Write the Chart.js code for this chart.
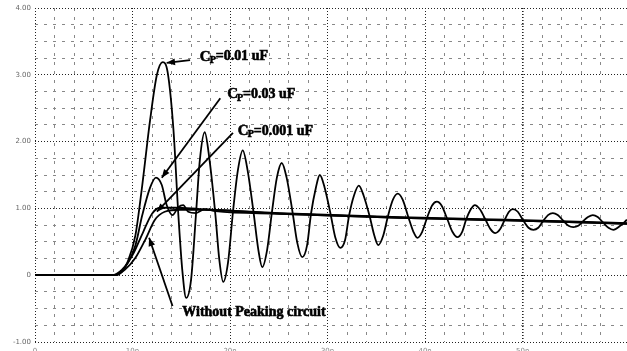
<!DOCTYPE html>
<html>
<head>
<meta charset="utf-8">
<script src="https://cdn.jsdelivr.net/npm/chart.js@4.4.1/dist/chart.umd.min.js"></script>
<style>
  html, body { margin: 0; padding: 0; background: #fff; }
  canvas { display: block; }
</style>
</head>
<body>
<canvas id="wave" width="627" height="351"></canvas>
<script>
// values: x in major divisions, y in volts
var yTicks = [-1, 0, 1, 2, 3, 4];
var yTickLabels = ["-1.00", "0", "1.00", "2.00", "3.00", "4.00"];
var xTicks = [0, 1, 2, 3, 4, 5, 6];
var xTickLabels = ["0", "10n", "20n", "30n", "40n", "50n", "60n"];

// Cp = 0.01 uF, the big ringing one
var timeA = [0, 0.46, 0.82, 0.89, 0.95, 1.03, 1.10, 1.18, 1.25, 1.31, 1.36, 1.42, 1.47, 1.51, 1.55, 1.60,
  1.65, 1.69, 1.74, 1.79, 1.85, 1.89, 1.93, 1.98, 2.03, 2.08, 2.13, 2.18, 2.24, 2.29, 2.33, 2.38,
  2.43, 2.48, 2.53, 2.58, 2.64, 2.69, 2.74, 2.79, 2.83, 2.88, 2.92, 2.97, 3.03, 3.08, 3.13, 3.18,
  3.22, 3.27, 3.32, 3.37, 3.43, 3.48, 3.52, 3.57, 3.62, 3.67, 3.72, 3.77, 3.83, 3.88, 3.92, 3.97,
  4.02, 4.07, 4.12, 4.17, 4.23, 4.28, 4.33, 4.38, 4.42, 4.47, 4.51, 4.56, 4.62, 4.67, 4.72, 4.77,
  4.81, 4.86, 4.90, 4.95, 5.01, 5.06, 5.11, 5.16, 5.21, 5.26, 5.31, 5.36, 5.42, 5.47, 5.52, 5.57,
  5.62, 5.67, 5.72, 5.77, 5.83, 5.88, 5.93, 6.00, 6.07];
var voltA = [0, 0, 0, 0.05, 0.20, 0.60, 1.35, 2.32, 3.00, 3.19, 3.04, 2.17, 0.90, 0.08, -0.34, -0.07,
  0.90, 1.72, 2.14, 1.72, 0.90, 0.23, -0.10, 0.20, 0.95, 1.57, 1.87, 1.57, 0.95, 0.38, 0.12, 0.38,
  0.95, 1.46, 1.68, 1.46, 0.95, 0.48, 0.27, 0.45, 0.92, 1.31, 1.50, 1.31, 0.92, 0.56, 0.41, 0.53,
  0.89, 1.19, 1.34, 1.19, 0.89, 0.59, 0.45, 0.59, 0.89, 1.13, 1.22, 1.13, 0.86, 0.65, 0.56, 0.65,
  0.86, 1.04, 1.10, 1.04, 0.83, 0.65, 0.57, 0.65, 0.83, 0.99, 1.05, 0.99, 0.83, 0.69, 0.63, 0.69,
  0.81, 0.95, 0.99, 0.95, 0.81, 0.71, 0.68, 0.71, 0.81, 0.90, 0.93, 0.90, 0.81, 0.74, 0.72, 0.74,
  0.81, 0.87, 0.90, 0.87, 0.78, 0.71, 0.68, 0.74, 0.83];

// Cp = 0.03 uF
var timeB = [0, 0.82, 0.92, 1.03, 1.10, 1.18, 1.24, 1.30, 1.35, 1.41, 1.47, 1.52, 1.57, 1.65, 1.74, 1.85, 2.51, 3.74, 4.56, 5.38, 6.07];
var voltB = [0, 0, 0.11, 0.45, 0.90, 1.31, 1.46, 1.35, 1.05, 0.90, 1.02, 1.05, 0.95, 0.93, 0.99, 0.96, 0.92, 0.86, 0.83, 0.80, 0.77];

// Cp = 0.001 uF
var timeC = [0, 0.79, 0.89, 1.00, 1.11, 1.20, 1.28, 1.44, 1.69, 2.51, 3.74, 4.56, 5.38, 6.07];
var voltC = [0, 0, 0.08, 0.30, 0.65, 0.92, 1.01, 1.01, 0.99, 0.93, 0.87, 0.84, 0.81, 0.78];

// without peaking circuit
var timeD = [0, 0.82, 0.92, 1.03, 1.13, 1.23, 1.33, 1.49, 1.69, 2.51, 3.74, 4.56, 5.38, 6.07];
var voltD = [0, 0, 0.08, 0.26, 0.53, 0.83, 0.95, 0.98, 0.98, 0.92, 0.86, 0.83, 0.80, 0.77];

function toPoints(xs, ys) {
  return xs.map(function(x, i) { return {x: x, y: ys[i]}; });
}

function isMajor(v) {
  return Math.abs(v - Math.round(v)) < 1e-6;
}

// callouts: text anchor and arrow (tail -> tip) in data units
var callouts = [
  {sub: true, text: "=0.01 uF", x: 1.69, y: 3.27, from: [1.59, 3.22], to: [1.35, 3.18]},
  {sub: true, text: "=0.03 uF", x: 1.97, y: 2.71, from: [1.90, 2.65], to: [1.30, 1.46]},
  {sub: true, text: "=0.001 uF", x: 2.08, y: 2.16, from: [2.03, 2.13], to: [1.25, 0.95]},
  {sub: false, text: "Without Peaking circuit", x: 1.51, y: -0.55, from: [1.41, -0.46], to: [1.17, 0.56]}
];

function heavyText(ctx, s, x, y) {
  ctx.fillText(s, x, y);
  ctx.strokeText(s, x, y);
}

var calloutPlugin = {
  id: 'callouts',
  afterDatasetsDraw: function(chart) {
    var ctx = chart.ctx;
    var sx = chart.scales.x, sy = chart.scales.y;
    ctx.save();
    ctx.strokeStyle = '#000';
    ctx.fillStyle = '#000';
    callouts.forEach(function(c) {
      var x0 = sx.getPixelForValue(c.from[0]), y0 = sy.getPixelForValue(c.from[1]);
      var x1 = sx.getPixelForValue(c.to[0]), y1 = sy.getPixelForValue(c.to[1]);
      ctx.lineWidth = 1.8;
      ctx.beginPath();
      ctx.moveTo(x0, y0);
      ctx.lineTo(x1, y1);
      ctx.stroke();
      var a = Math.atan2(y1 - y0, x1 - x0);
      ctx.beginPath();
      ctx.moveTo(x1, y1);
      ctx.lineTo(x1 - 9 * Math.cos(a - 0.38), y1 - 9 * Math.sin(a - 0.38));
      ctx.lineTo(x1 - 9 * Math.cos(a + 0.38), y1 - 9 * Math.sin(a + 0.38));
      ctx.closePath();
      ctx.fill();

      var tx = sx.getPixelForValue(c.x), ty = sy.getPixelForValue(c.y);
      ctx.lineWidth = 0.6;
      ctx.textBaseline = 'middle';
      ctx.textAlign = 'left';
      if (c.sub) {
        ctx.font = 'bold 15px "Liberation Serif", serif';
        heavyText(ctx, 'C', tx, ty);
        var w = ctx.measureText('C').width;
        ctx.font = 'bold 10px "Liberation Serif", serif';
        heavyText(ctx, 'P', tx + w - 1, ty + 4);
        w += ctx.measureText('P').width - 1;
        ctx.font = 'bold 14px "Liberation Serif", serif';
        heavyText(ctx, c.text, tx + w, ty);
      } else {
        ctx.font = 'bold 14px "Liberation Serif", serif';
        heavyText(ctx, c.text, tx, ty);
      }
    });
    ctx.restore();
  }
};

var lineStyle = {
  borderColor: '#000',
  backgroundColor: '#000',
  borderWidth: 1.8,
  pointRadius: 0,
  fill: false,
  cubicInterpolationMode: 'monotone'
};

var ctx = document.getElementById('wave').getContext('2d');
var chart = new Chart(ctx, {
  type: 'line',
  data: {
    datasets: [
      Object.assign({label: 'Cp=0.01 uF', data: toPoints(timeA, voltA)}, lineStyle),
      Object.assign({label: 'Cp=0.03 uF', data: toPoints(timeB, voltB)}, lineStyle),
      Object.assign({label: 'Cp=0.001 uF', data: toPoints(timeC, voltC)}, lineStyle),
      Object.assign({label: 'Without Peaking circuit', data: toPoints(timeD, voltD)}, lineStyle)
    ]
  },
  options: {
    responsive: false,
    animation: false,
    devicePixelRatio: 1,
    layout: {padding: {top: 8, right: 0, left: 0, bottom: 0}},
    plugins: {legend: {display: false}, tooltip: {enabled: false}},
    scales: {
      x: {
        type: 'linear',
        min: 0,
        max: 6.07,
        afterFit: function(s) { s.height = 9; s.paddingLeft = 0; s.paddingRight = 0; },
        ticks: {
          stepSize: 0.2,
          maxTicksLimit: 100,
          autoSkip: false,
          maxRotation: 0,
          padding: 5,
          color: '#888',
          font: {size: 7, family: 'DejaVu Sans'},
          callback: function(v) {
            var i = xTicks.indexOf(Math.round(v));
            return isMajor(v) && i >= 0 ? xTickLabels[i] : '';
          }
        },
        grid: {
          drawTicks: false,
          color: function(c) { return c.tick && isMajor(c.tick.value) ? '#222' : '#888'; },
          lineWidth: function(c) { return c.tick && c.tick.value === 5 ? 1.6 : 1; }
        },
        border: {
          display: false,
          dash: function(c) { return c.tick && isMajor(c.tick.value) ? [1, 2] : [3, 6]; }
        }
      },
      y: {
        min: -1,
        max: 4,
        afterFit: function(s) { s.width = 35; s.paddingTop = 0; s.paddingBottom = 0; },
        ticks: {
          stepSize: 0.25,
          maxTicksLimit: 100,
          autoSkip: false,
          padding: 4,
          color: '#666',
          font: {size: 7, family: 'DejaVu Sans'},
          callback: function(v) {
            var i = yTicks.indexOf(Math.round(v));
            return isMajor(v) && i >= 0 ? yTickLabels[i] : '';
          }
        },
        grid: {
          drawTicks: false,
          color: function(c) { return c.tick && isMajor(c.tick.value) ? '#222' : '#888'; }
        },
        border: {
          display: false,
          dash: function(c) { return c.tick && isMajor(c.tick.value) ? [1, 2] : [3, 6]; }
        }
      }
    }
  },
  plugins: [calloutPlugin]
});
</script>
</body>
</html>
